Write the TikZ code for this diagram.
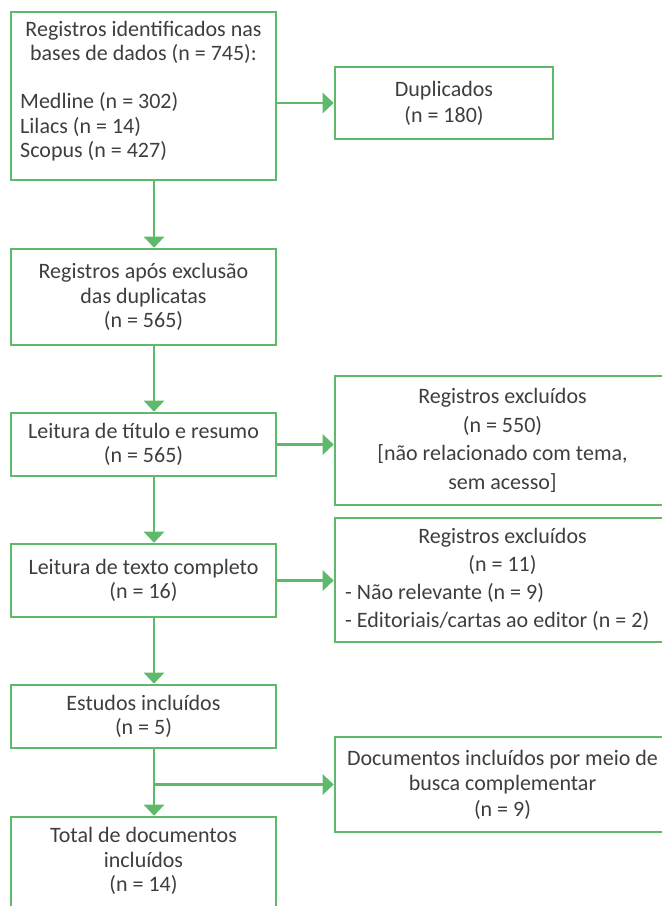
\documentclass[tikz,border=0pt]{standalone}
\usepackage{fontspec}
\setmainfont{Carlito}
\usetikzlibrary{arrows.meta}
\definecolor{grn}{RGB}{94,186,106}
\definecolor{txt}{RGB}{62,62,62}
\begin{document}
\begin{tikzpicture}[x=1pt,y=-1pt,
  box/.style={draw=grn,line width=2.6pt,text=txt,align=center,inner sep=0pt,
    font=\fontsize{22}{24.5}\selectfont},
  lbl/.style={text=txt,align=center,inner sep=0pt,font=\fontsize{22}{24.5}\selectfont},
  arr/.style={draw=grn,line width=2.6pt,-{Triangle[length=11pt,width=20pt]}}]
\useasboundingbox (0,0) rectangle (662,906);
\coordinate (ax) at (154,0);
% left column
\node[box,minimum width=265pt,minimum height=168pt] (b1) at (143.5,96) {};
\node[lbl] (t1a) at (143.5,42.5) {Registros identificados nas\\ bases de dados (n = 745):};
\node[lbl,align=left,anchor=west] (t1b) at (20,127) {Medline (n = 302)\\ Lilacs (n = 14)\\ Scopus (n = 427)};
\node[box,minimum width=265pt,minimum height=96pt] (b2) at (143.5,297)
  {Registros após exclusão\\ das duplicatas\\ (n = 565)};
\node[box,minimum width=265pt,minimum height=63pt] (b3) at (143.5,444.5)
  {Leitura de título e resumo\\ (n = 565)};
\node[box,minimum width=265pt,minimum height=73pt] (b4) at (143.5,580.5)
  {Leitura de texto completo\\ (n = 16)};
\node[box,minimum width=265pt,minimum height=63pt] (b5) at (143.5,716.5)
  {Estudos incluídos\\ (n = 5)};
\node[box,minimum width=265pt,minimum height=112pt] (b6) at (143.5,873) {};
\node[lbl] (t6) at (143.5,861) {Total de documentos\\ incluídos\\ (n = 14)};
% right column
\node[box,minimum width=218pt,minimum height=72pt,font=\fontsize{22}{26}\selectfont] (dup) at (444,103)
  {Duplicados\\ (n = 180)};
\node[box,minimum width=335pt,minimum height=129pt,font=\fontsize{22}{28.7}\selectfont] (ex1) at (502.5,440.5)
  {Registros excluídos\\ (n = 550)\\ {[}não relacionado com tema,\\ sem acesso{]}};
\node[box,minimum width=335pt,minimum height=124pt] (ex2) at (502.5,580) {};
\node[lbl,font=\fontsize{22}{27.5}\selectfont] (t2a) at (502.5,551.5) {Registros excluídos\\ (n = 11)};
\node[lbl,align=left,anchor=west,font=\fontsize{22}{28}\selectfont] (t2b) at (345,607)
  {- Não relevante (n = 9)\\ - Editoriais/cartas ao editor (n = 2)};
\node[box,minimum width=335pt,minimum height=95pt,font=\fontsize{22}{25.5}\selectfont] (doc) at (502.5,784.5)
  {Documentos incluídos por meio de\\ busca complementar\\ (n = 9)};
% connectors
\draw[arr] (b1.east |- dup.west) -- (dup.west);
\draw[arr] (b1.south -| ax) -- (b2.north -| ax);
\draw[arr] (b2.south -| ax) -- (b3.north -| ax);
\draw[arr] (b3.east) -- (b3.east -| ex1.west);
\draw[arr] (b3.south -| ax) -- (b4.north -| ax);
\draw[arr] (b4.east) -- (b4.east -| ex2.west);
\draw[arr] (b4.south -| ax) -- (b5.north -| ax);
\draw[arr] (b5.south -| ax) |- (doc.west);
\draw[arr] (b5.south -| ax) -- (b6.north -| ax);
\end{tikzpicture}
\end{document}
